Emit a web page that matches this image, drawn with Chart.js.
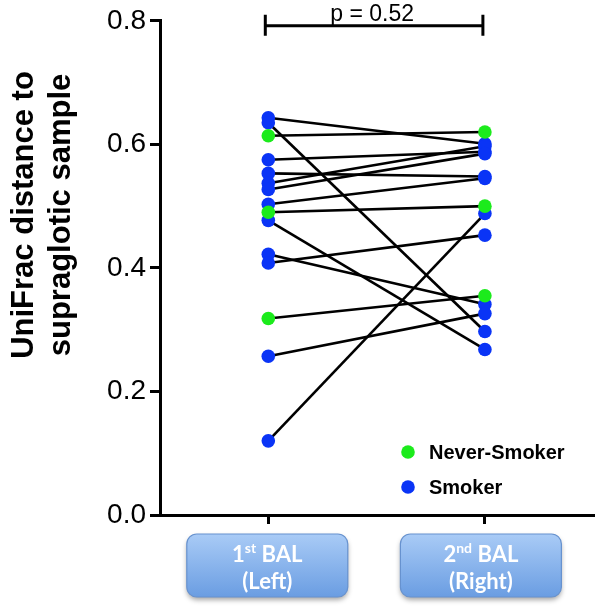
<!DOCTYPE html>
<html>
<head>
<meta charset="utf-8">
<script src="https://cdn.jsdelivr.net/npm/chart.js@4/dist/chart.umd.min.js"></script>
<style>
  html, body { margin: 0; padding: 0; background: #fff; }
  #wrap { width: 600px; height: 606px; }
</style>
</head>
<body>
<div id="wrap"><canvas id="c" width="600" height="606"></canvas></div>
<script>
// ---- data ----
const categories = ['1st BAL (Left)', '2nd BAL (Right)'];
const seriesNames = ['Never-Smoker', 'Smoker'];
const firstBAL  = [0.643, 0.635, 0.614, 0.575, 0.553, 0.537, 0.527, 0.503, 0.490, 0.477, 0.422, 0.408, 0.318, 0.257, 0.120];
const secondBAL = [0.601, 0.297, 0.620, 0.588, 0.548, 0.597, 0.585, 0.545, 0.500, 0.268, 0.341, 0.453, 0.355, 0.326, 0.488];
const smokerStatus = ['Smoker', 'Smoker', 'Never-Smoker', 'Smoker', 'Smoker', 'Smoker', 'Smoker', 'Smoker', 'Never-Smoker', 'Smoker', 'Smoker', 'Smoker', 'Never-Smoker', 'Smoker', 'Smoker'];
const yTickValues = [0.0, 0.2, 0.4, 0.6, 0.8];
const pValueText = 'p = 0.52';
const yTitleLines = ['UniFrac distance to', 'supraglotic sample'];
const boxLabels = [['1', 'st', ' BAL', '(Left)'], ['2', 'nd', ' BAL', '(Right)']];

const colors = { 'Never-Smoker': '#1ceb1c', 'Smoker': '#0a34f6' };

// ---- datasets ----
const datasets = [];
// points (drawn on top: lower order)
seriesNames.forEach(name => {
  const pts = [];
  firstBAL.forEach((v, i) => {
    if (smokerStatus[i] === name) {
      pts.push({ x: 0, y: v });
      pts.push({ x: 1, y: secondBAL[i] });
    }
  });
  datasets.push({
    label: name, data: pts, showLine: false, order: 0,
    pointRadius: 6.8, pointHoverRadius: 6.8,
    pointBackgroundColor: colors[name], pointBorderColor: colors[name], pointBorderWidth: 0
  });
});
// subject lines
firstBAL.forEach((v, i) => {
  datasets.push({
    label: 'subject ' + (i + 1),
    data: [{ x: 0, y: v }, { x: 1, y: secondBAL[i] }],
    showLine: true, order: 1, pointRadius: 0, borderColor: '#000', borderWidth: 2.6, fill: false
  });
});

const decor = {
  id: 'decor',
  afterDraw(chart) {
    const ctx = chart.ctx;
    const xs = chart.scales.x, ys = chart.scales.y;
    ctx.save();
    // y-axis title
    ctx.fillStyle = '#000';
    ctx.font = 'bold 31px "Liberation Sans", Arial, sans-serif';
    ctx.textAlign = 'center';
    ctx.textBaseline = 'alphabetic';
    const cy = 215;
    [[33, yTitleLines[0]], [70, yTitleLines[1]]].forEach(([bx, t]) => {
      ctx.save();
      ctx.translate(bx, cy);
      ctx.rotate(-Math.PI / 2);
      ctx.fillText(t, 0, 0);
      ctx.restore();
    });

    // p-value bracket
    const x0 = xs.getPixelForValue(0) - 3, x1 = xs.getPixelForValue(1) - 2;
    const yb = ys.getPixelForValue(0.792);
    ctx.strokeStyle = '#000';
    ctx.lineWidth = 3;
    ctx.beginPath();
    ctx.moveTo(x0, yb); ctx.lineTo(x1, yb);
    ctx.moveTo(x0, yb - 11); ctx.lineTo(x0, yb + 10);
    ctx.moveTo(x1, yb - 11); ctx.lineTo(x1, yb + 10);
    ctx.stroke();
    ctx.font = '23px "Liberation Sans", Arial, sans-serif';
    ctx.textAlign = 'center';
    ctx.fillText(pValueText, (x0 + x1) / 2 - 2, yb - 5);

    // legend
    ctx.font = 'bold 20px "Liberation Sans", Arial, sans-serif';
    ctx.textAlign = 'left';
    ctx.textBaseline = 'middle';
    seriesNames.forEach((name, k) => {
      const ly = 452 + k * 35;
      ctx.fillStyle = colors[name];
      ctx.beginPath(); ctx.arc(408, ly, 6.8, 0, Math.PI * 2); ctx.fill();
      ctx.fillStyle = '#000';
      ctx.fillText(name, 429, ly + 1);
    });

    // category boxes
    boxLabels.forEach((lab, k) => {
      const cx = xs.getPixelForValue(k) - 1 - k * 3;
      const w = 161, h = 63, top = 534, left = cx - w / 2, r = 10;
      ctx.save();
      ctx.shadowColor = 'rgba(0,0,0,0.35)';
      ctx.shadowBlur = 5; ctx.shadowOffsetY = 3;
      const g = ctx.createLinearGradient(0, top, 0, top + h);
      g.addColorStop(0, '#a9cbf6');
      g.addColorStop(1, '#6a9de2');
      ctx.fillStyle = g;
      ctx.beginPath();
      ctx.roundRect(left, top, w, h, r);
      ctx.fill();
      ctx.restore();
      ctx.strokeStyle = '#6792cf';
      ctx.lineWidth = 1.2;
      ctx.beginPath(); ctx.roundRect(left, top, w, h, r); ctx.stroke();

      ctx.fillStyle = '#fff';
      ctx.textBaseline = 'alphabetic';
      const big = 'bold 22px Lato, "Open Sans", sans-serif';
      const small = 'bold 14px Lato, "Open Sans", sans-serif';
      ctx.font = big; const w1 = ctx.measureText(lab[0]).width, w3 = ctx.measureText(lab[2]).width;
      ctx.font = small; const w2 = ctx.measureText(lab[1]).width;
      let sx = cx - (w1 + w2 + w3) / 2;
      ctx.textAlign = 'left';
      ctx.font = big; ctx.fillText(lab[0], sx, 562); sx += w1;
      ctx.font = small; ctx.fillText(lab[1], sx, 553); sx += w2;
      ctx.font = big; ctx.fillText(lab[2], sx, 562);
      ctx.textAlign = 'center';
      ctx.fillText(lab[3], cx, 589);
    });
    ctx.restore();
  }
};

new Chart(document.getElementById('c'), {
  type: 'scatter',
  data: { datasets },
  plugins: [decor],
  options: {
    responsive: false,
    animation: false,
    layout: { padding: { top: 18, right: 2, left: 0, bottom: 0 } },
    plugins: { legend: { display: false }, tooltip: { enabled: false } },
    scales: {
      x: {
        type: 'linear', min: -0.5, max: 1.5,
        afterBuildTicks: s => { s.ticks = [{ value: 0 }, { value: 1 }]; },
        afterFit: s => { s.height = 91; },
        ticks: { display: false },
        grid: { drawOnChartArea: false, drawTicks: true, tickLength: 9, color: '#000', lineWidth: 3 },
        border: { display: true, color: '#000', width: 3 }
      },
      y: {
        min: 0, max: 0.8,
        afterBuildTicks: s => { s.ticks = yTickValues.map(v => ({ value: v })); },
        afterFit: s => { s.width = 160; },
        ticks: {
          color: '#000', padding: 4,
          font: { size: 28, family: '"Liberation Sans", Arial, sans-serif' },
          callback: v => Number(v).toFixed(1)
        },
        grid: { drawOnChartArea: false, drawTicks: true, tickLength: 10, color: '#000', lineWidth: 3 },
        border: { display: true, color: '#000', width: 3 }
      }
    }
  }
});
</script>
</body>
</html>
